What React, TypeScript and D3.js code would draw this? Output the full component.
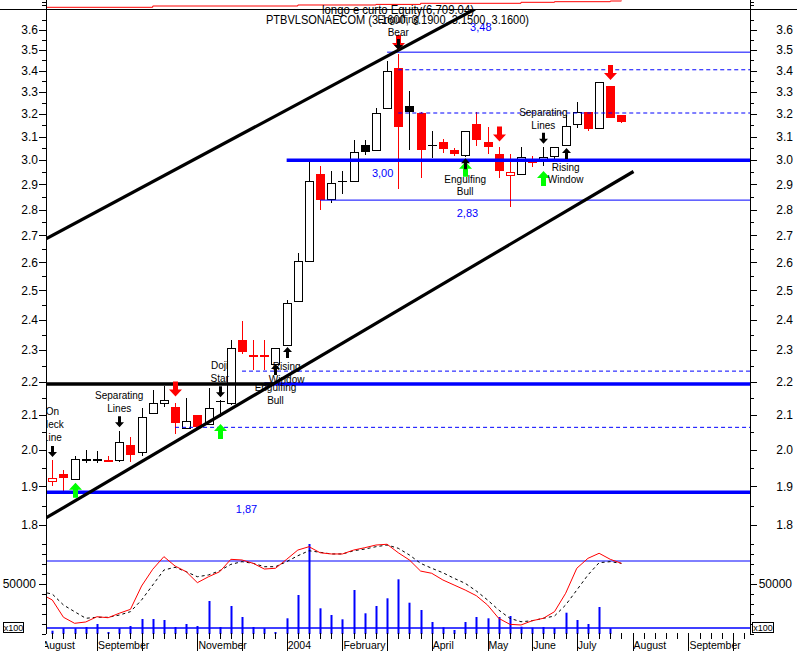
import React from 'react';
import * as d3 from 'd3';

// ---------- DATA ----------
// weekly candles, index 0 = first week of August 2003
const opens = [1.915,1.933,1.921,1.972,1.972,1.972,1.974,2.014,1.993,2.105,2.137,2.123,2.064,2.101,2.074,2.140,2.135,2.332,2.283,2.283,2.255,2.316,2.463,2.605,2.943,2.838,2.911,2.914,3.064,3.045,3.226,3.412,3.237,3.207,3.062,3.079,3.043,3.022,3.154,3.079,3.025,2.938,2.945,3.004,3.004,3.014,3.064,3.159,3.211,3.137,3.329,3.196];
const highs = [1.972,1.943,1.983,2.000,1.997,1.983,2.052,2.037,2.121,2.175,2.187,2.137,2.152,2.101,2.180,2.145,2.332,2.396,2.332,2.332,2.305,2.467,2.636,3.000,2.976,2.955,2.955,3.086,3.086,3.226,3.447,3.480,3.303,3.210,3.125,3.089,3.050,3.125,3.211,3.144,3.054,3.025,3.054,3.018,3.054,3.054,3.196,3.256,3.211,3.346,3.329,3.196];
const lows = [1.901,1.888,1.918,1.963,1.963,1.965,1.965,1.965,1.984,2.105,2.124,2.044,2.064,2.064,2.070,2.095,2.130,2.287,2.236,2.236,2.246,2.316,2.460,2.600,2.800,2.827,2.860,2.910,3.022,3.040,3.226,2.880,3.043,2.927,3.008,3.029,3.018,3.012,3.060,3.025,2.928,2.811,2.945,2.971,2.976,3.000,3.064,3.137,3.125,3.137,3.184,3.159];
const closes = [1.922,1.924,1.975,1.972,1.972,1.965,2.023,1.986,2.093,2.135,2.145,2.076,2.083,2.064,2.122,2.140,2.305,2.294,2.276,2.276,2.305,2.456,2.605,2.914,2.838,2.904,2.911,3.036,3.036,3.206,3.399,3.144,3.210,3.043,3.062,3.046,3.025,3.125,3.086,3.058,2.957,2.952,3.014,2.987,3.014,3.054,3.147,3.211,3.134,3.346,3.184,3.166];
// w = white, r = red, k = black, rh = red hollow
const candleStyles = ['rh','r','w','w','w','r','w','r','w','w','w','r','w','r','w','w','w','r','r','r','w','w','w','w','r','w','w','w','k','w','w','r','k','r','w','r','r','w','r','r','r','rh','w','r','w','w','w','w','r','w','r','r'];
const volumes = [3300,5700,5700,7000,10000,2000,5700,8000,15000,15000,14000,7000,10000,8000,33000,7000,28000,17000,7000,5700,2000,15700,39000,90000,25700,19000,14700,44000,20700,28000,35700,54700,31300,24000,12000,6700,4000,12000,17000,15700,17000,18000,7300,6300,7000,6000,21300,14000,10000,27000,5700,0];
// stochastic, first value is week -1
const stochK = [50.4,45.1,29.6,24.2,25.4,30.1,29.2,33.2,36.7,57.6,72.6,83.9,75.5,70.4,60.6,65.9,70.4,81.5,80.9,77.9,72.8,73.5,81.5,89.8,92.8,87.4,86.3,86.3,89.8,91.9,94.3,95.0,87.4,80.9,71.0,69.0,63.0,58.5,54.0,48.9,40.6,28.7,23.3,22.7,26.5,28.7,34.6,51.1,73.5,82.4,86.9,81.5,77.9];
const stochD = [52.5,50.4,40.6,34.6,28.7,29.6,29.6,31.6,34.6,45.1,58.5,71.9,74.4,70.4,65.9,67.5,71.3,77.0,79.4,77.9,74.9,74.9,79.4,84.7,89.2,87.8,86.3,86.3,89.2,90.7,92.8,94.3,91.4,85.4,77.9,73.5,69.5,64.5,60.0,53.1,45.1,36.1,28.7,25.6,26.5,28.7,30.7,40.6,54.0,67.5,78.5,79.4,77.9];
const stochLevels = [80, 20];
// equity curve steps
const equityIdx = [-1,9,22,29,33,42,45,50,51];
const equityVal = [4953,5300,5567,5727,6020,6287,6447,6633,6709];
// horizontal levels
const levelValues = [3.49,3.405,3.205,3.00,2.837,2.233,2.193,2.064,1.885];
const levelStart = [30,31,31,21,24,17,19,11,-1];
const levelKind = ['thin','dash','dash','thick','thin','dash','thick','dash','thick'];
const levelLabels = ['3,48','','','3,00','2,83','','','','1,87'];
const levelLabelIdx = [38.4,0,0,29.6,37.2,0,0,0,17.4];
const levelLabelPrice = [3.614,0,0,2.948,2.786,0,0,0,1.841];
const blackLevel = { value: 2.193, from: -1, to: 19.8 };
// trend lines
const trendFromIdx = [-0.565,-0.565];
const trendFromPrice = [2.687,1.818];
const trendToIdx = [37.88,52.08];
const trendToPrice = [3.707,2.953];
// arrows
const arrowIdx = [0,6,15,2,11,15,20,21,31,31,37,37,40,44,44,46,50];
const arrowKind = ['kd','kd','kd','gu','rd','gu','ku','ku','rd','kd','gu','ku','rd','kd','gu','ku','rd'];
const arrowTip = [1.98,2.064,2.153,1.91,2.155,2.074,2.255,2.31,3.50,3.50,2.994,3.008,3.08,3.07,2.955,3.052,3.357];
// pattern labels
const labelIdx = [0,6,15,21,20,31,37,44,46];
const labelLines = [['On','Neck','Line'],['Separating','Lines'],['Doji','Star'],['Rising','Window'],['Engulfing','Bull'],['Engulfing','Bear'],['Engulfing','Bull'],['Separating','Lines'],['Rising','Window']];
const labelPrice = [2.109,2.157,2.25,2.247,2.182,3.651,2.922,3.208,2.971];
// axes
const priceTicks = [1.8,1.9,2.0,2.1,2.2,2.3,2.4,2.5,2.6,2.7,2.8,2.9,3.0,3.1,3.2,3.3,3.4,3.5,3.6];
const monthIdx = [-1,4,8,13,17,21,26,30,34,39,43,47,52,57,61];
const monthNames = ['August','September','October','November','December','2004','February','March','April','May','June','July','August','September','October'];
const monthShown = [1,1,0,1,0,1,1,0,1,1,1,1,1,1,0];
const titleLine1 = 'longo e curto Equity(6,709.04)';
const titleLine2 = 'PTBVLSONAECOM (3.1600, 3.1900, 3.1500, 3.1600)';

const RED = '#ff0000', BLUE = '#0000ff', GREEN = '#00ff00', BLACK = '#000000';
const FONT = '"Liberation Sans", Arial, sans-serif';

function arrowPoints(cx: number, tip: number, down: boolean, big: boolean) {
  const H = big ? 15 : 11, hh = big ? 7 : 5, hw = big ? 6.5 : 4.5, sw = big ? 2.5 : 1.5;
  const s = down ? -1 : 1;
  const base = tip + s * H, neck = tip + s * hh;
  return [[cx - sw, base], [cx + sw, base], [cx + sw, neck], [cx + hw, neck], [cx, tip], [cx - hw, neck], [cx - sw, neck]]
    .map(p => p.join(',')).join(' ');
}

export default function App() {
  const L = 46, R = 750, TOP = 9, MAINB = 541, LOWB = 634;
  const x = d3.scaleLinear().domain([-0.565, 62.52]).range([L, R]);
  const y = d3.scaleLog().domain([3.7074, 1.7628]).range([9, 540]);
  const ys = d3.scaleLinear().domain([20, 80]).range([628, 561]);
  const yv = d3.scaleLinear().domain([0, 50000]).range([634, 584]);
  const ye = d3.scaleLinear().domain([4500, 6900]).range([9, 0]);

  const minorTicks = d3.range(35, 75).map(v => v / 20).filter(v => y(v) >= 12 && y(v) <= 540 && Math.abs(v * 10 - Math.round(v * 10)) > 0.01);
  const kLine = d3.line<number>().x((_, i) => x(i - 1)).y(v => ys(v));
  const eqLine = d3.line<number>().x((_, i) => x(equityIdx[i])).y(v => ye(v)).curve(d3.curveStepAfter);
  const weekTicks = d3.range(0, 63).filter(i => !monthIdx.includes(i));
  const volTicks = d3.range(0, 100000, 10000);

  return (
    <svg width={797} height={651} style={{ position: 'absolute', left: 0, top: 0, background: '#fff' }}
      fontFamily={FONT}>
      <defs>
        <clipPath id="cMain"><rect x={L} y={TOP} width={R - L} height={MAINB - TOP} /></clipPath>
        <clipPath id="cLow"><rect x={L} y={MAINB} width={R - L} height={LOWB - MAINB} /></clipPath>
        <clipPath id="cTop"><rect x={L} y={0} width={R - L} height={TOP} /></clipPath>
        <clipPath id="cAxis"><rect x={45} y={630} width={R - 45} height={30} /></clipPath>
      </defs>
      <rect x={0} y={0} width={797} height={651} fill="#fff" />

      {/* top equity panel */}
      <g clipPath="url(#cTop)">
        <path d={eqLine(equityVal) || ''} fill="none" stroke={RED} strokeWidth={1} />
      </g>
      <line x1={0} x2={797} y1={9.5} y2={9.5} stroke={BLACK} strokeWidth={1} />
      {[2, 5].map(t => (
        <g key={'tt' + t}>
          <line x1={42} x2={L} y1={t + 0.5} y2={t + 0.5} stroke={BLACK} />
          <line x1={R} x2={R + 4} y1={t + 0.5} y2={t + 0.5} stroke={BLACK} />
        </g>
      ))}

      {/* candles */}
      <g clipPath="url(#cMain)" shapeRendering="crispEdges">
        {opens.map((o, i) => {
          const c = closes[i], st = candleStyles[i];
          const cx = Math.round(x(i)) + 0.5;
          const top = y(Math.max(o, c)), bot = y(Math.min(o, c));
          const wc = st === 'r' || st === 'rh' ? RED : BLACK;
          const doji = Math.abs(bot - top) < 1.2;
          return (
            <g key={'c' + i}>
              <line x1={cx} x2={cx} y1={y(highs[i])} y2={y(lows[i])} stroke={wc} strokeWidth={1} />
              {doji ? (
                <line x1={cx - 4.5} x2={cx + 4.5} y1={top} y2={top} stroke={wc} strokeWidth={1.5} />
              ) : st === 'w' || st === 'rh' ? (
                <rect x={cx - 4} y={Math.round(top) + 0.5} width={8} height={Math.max(1, Math.round(bot - top))} fill="#fff" stroke={wc} strokeWidth={1} />
              ) : (
                <rect x={cx - 4.5} y={top} width={9} height={Math.max(2, bot - top)} fill={st === 'k' ? BLACK : RED} />
              )}
            </g>
          );
        })}
      </g>

      {/* levels and trend lines */}
      <g clipPath="url(#cMain)">
        {levelValues.map((v, i) => (
          <line key={'lv' + i} x1={Math.max(L, x(levelStart[i]))} x2={R} y1={y(v)} y2={y(v)} stroke={BLUE}
            strokeWidth={levelKind[i] === 'thick' ? 3.5 : 1}
            strokeDasharray={levelKind[i] === 'dash' ? '4,3' : undefined} />
        ))}
        <line x1={Math.max(L, x(blackLevel.from))} x2={x(blackLevel.to)} y1={y(blackLevel.value)} y2={y(blackLevel.value)} stroke={BLACK} strokeWidth={3.5} />
        {trendFromIdx.map((fi, i) => (
          <line key={'tr' + i} x1={x(fi)} y1={y(trendFromPrice[i])} x2={x(trendToIdx[i])} y2={y(trendToPrice[i])} stroke={BLACK} strokeWidth={3.2} />
        ))}
        {levelLabels.map((t, i) => t ? (
          <text key={'ll' + i} x={x(levelLabelIdx[i])} y={y(levelLabelPrice[i])} dy="0.35em" textAnchor="middle" fontSize={11} fill={BLUE}>{t}</text>
        ) : null)}
      </g>

      {/* arrows */}
      <g>
        {arrowIdx.map((ai, i) => {
          const k = arrowKind[i];
          const down = k === 'kd' || k === 'rd';
          const big = k === 'rd' || k === 'gu';
          const fill = k === 'rd' ? RED : k === 'gu' ? GREEN : BLACK;
          return <polygon key={'a' + i} points={arrowPoints(Math.round(x(ai)) + 0.5, y(arrowTip[i]), down, big)} fill={fill} />;
        })}
      </g>

      {/* title */}
      <text x={322} y={13.5} fontSize={12} textLength={152} lengthAdjust="spacingAndGlyphs" fill={BLACK}>{titleLine1}</text>
      <text x={266} y={23.5} fontSize={12} textLength={263} lengthAdjust="spacingAndGlyphs" fill={BLACK}>{titleLine2}</text>

      {/* pattern labels */}
      <g clipPath="url(#cMain)">
        {labelIdx.map((li, i) => (
          <text key={'lb' + i} x={x(li)} y={y(labelPrice[i])} textAnchor="middle" fontSize={10} fill={BLACK}>
            {labelLines[i].map((t, j) => (
              <tspan key={j} x={x(li)} dy={j === 0 ? '0.35em' : 12.8}>{t}</tspan>
            ))}
          </text>
        ))}
      </g>

      {/* lower panel */}
      <g clipPath="url(#cLow)">
        {volumes.map((v, i) => v > 0 ? (
          <rect key={'v' + i} x={Math.round(x(i)) - 0.5} y={yv(v)} width={2} height={yv(0) - yv(v)} fill={BLUE} />
        ) : null)}
        {stochLevels.map(s => (
          <line key={'sl' + s} x1={L} x2={R} y1={ys(s)} y2={ys(s)} stroke={BLUE} strokeWidth={s === 20 ? 1.5 : 1} />
        ))}
        <path d={kLine(stochD) || ''} fill="none" stroke={BLACK} strokeWidth={1} strokeDasharray="3,3" />
        <path d={kLine(stochK) || ''} fill="none" stroke={RED} strokeWidth={1} />
      </g>

      {/* axes */}
      <line x1={L + 0.5} x2={L + 0.5} y1={0} y2={634} stroke={BLACK} />
      <line x1={R + 0.5} x2={R + 0.5} y1={0} y2={634} stroke={BLACK} />
      <g fontSize={12} fill={BLACK}>
        {priceTicks.map(p => (
          <g key={'p' + p}>
            <line x1={39} x2={L} y1={Math.round(y(p)) + 0.5} y2={Math.round(y(p)) + 0.5} stroke={BLACK} />
            <line x1={R} x2={R + 7} y1={Math.round(y(p)) + 0.5} y2={Math.round(y(p)) + 0.5} stroke={BLACK} />
            <text x={38} y={y(p)} dy="0.35em" textAnchor="end">{p.toFixed(1)}</text>
            <text x={793} y={y(p)} dy="0.35em" textAnchor="end">{p.toFixed(1)}</text>
          </g>
        ))}
        {minorTicks.map(p => (
          <g key={'m' + p}>
            <line x1={42} x2={L} y1={Math.round(y(p)) + 0.5} y2={Math.round(y(p)) + 0.5} stroke={BLACK} />
            <line x1={R} x2={R + 4} y1={Math.round(y(p)) + 0.5} y2={Math.round(y(p)) + 0.5} stroke={BLACK} />
          </g>
        ))}
        {volTicks.map(v => (
          <g key={'vt' + v}>
            <line x1={v === 50000 ? 39 : 42} x2={L} y1={Math.round(yv(v)) + 0.5} y2={Math.round(yv(v)) + 0.5} stroke={BLACK} />
            <line x1={R} x2={R + (v === 50000 ? 7 : 4)} y1={Math.round(yv(v)) + 0.5} y2={Math.round(yv(v)) + 0.5} stroke={BLACK} />
          </g>
        ))}
        <text x={36} y={yv(50000)} dy="0.35em" textAnchor="end">50000</text>
        <text x={792} y={yv(50000)} dy="0.35em" textAnchor="end">50000</text>
      </g>
      {/* x100 boxes */}
      <rect x={3.5} y={622.5} width={20} height={10} fill="#fff" stroke={BLACK} />
      <text x={13.5} y={630.5} fontSize={9} textAnchor="middle">x100</text>
      <rect x={752.5} y={622.5} width={21} height={10} fill="#fff" stroke={BLACK} />
      <text x={763} y={630.5} fontSize={9} textAnchor="middle">x100</text>

      {/* time axis */}
      <g>
        {weekTicks.map(i => (
          <line key={'w' + i} x1={Math.round(x(i)) + 0.5} x2={Math.round(x(i)) + 0.5} y1={633} y2={639} stroke={BLACK} />
        ))}
        {monthIdx.map((m, i) => x(m) >= L ? (
          <line key={'mt' + i} x1={Math.round(x(m)) + 0.5} x2={Math.round(x(m)) + 0.5} y1={633} y2={651} stroke={BLACK} />
        ) : null)}
        <g clipPath="url(#cAxis)">
          {monthIdx.map((m, i) => monthShown[i] ? (
            <text key={'ml' + i} x={x(m) + 1} y={649} fontSize={10.5} fill={BLACK}>{monthNames[i]}</text>
          ) : null)}
        </g>
      </g>
    </svg>
  );
}
